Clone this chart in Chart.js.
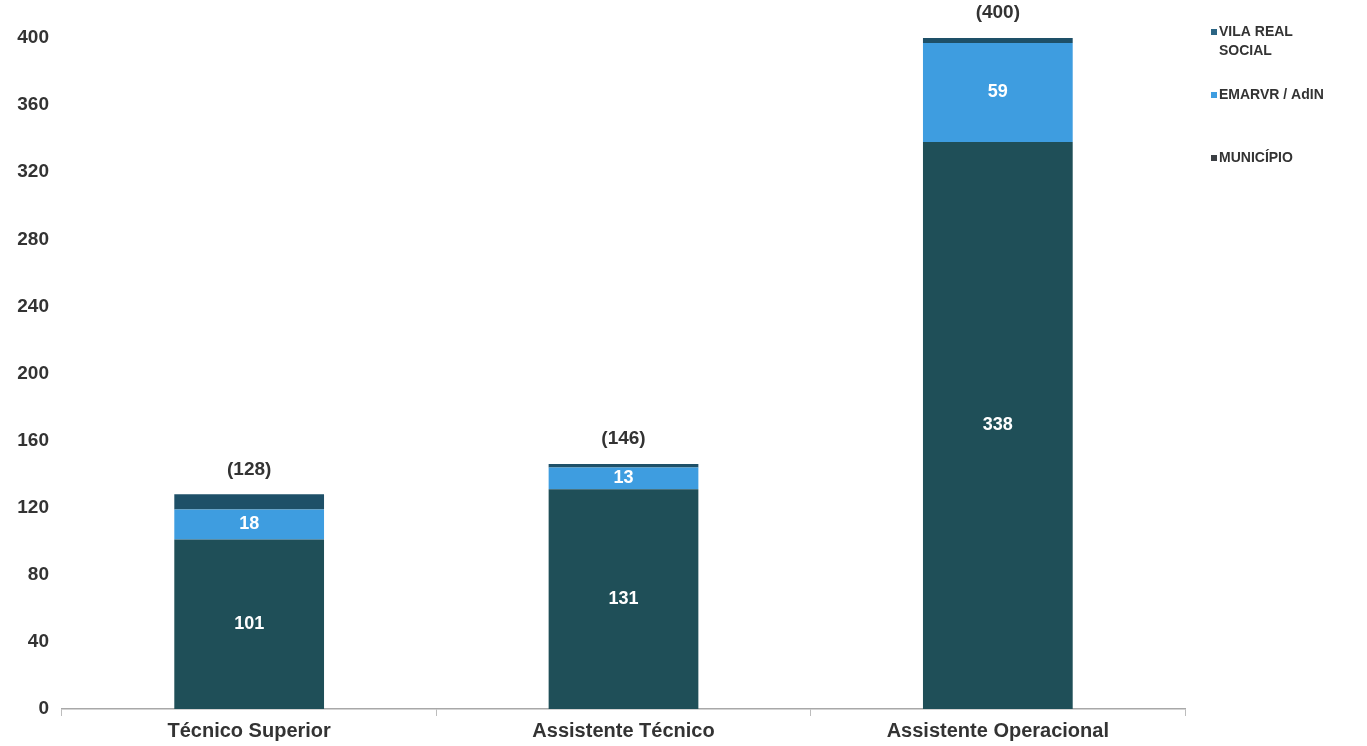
<!DOCTYPE html>
<html lang="pt">

<head>
    <meta charset="UTF-8">
    <title>Trabalhadores por carreira</title>
    <script src="https://cdn.jsdelivr.net/npm/chart.js"></script>
    <style>
        html, body { margin: 0; padding: 0; background: #fff; }
        #wrap { width: 1367px; height: 746px; }
    </style>
</head>

<body>
    <div id="wrap">
        <canvas id="carreiras" width="1367" height="746"></canvas>
    </div>

    <script>
        // Carreiras e efetivos por entidade
        const categories = ['Técnico Superior', 'Assistente Técnico', 'Assistente Operacional'];
        const municipio = [101, 131, 338];
        const emarvr = [18, 13, 59];
        const vilaRealSocial = [9, 2, 3];
        const yTicks = [0, 40, 80, 120, 160, 200, 240, 280, 320, 360, 400];

        const FONT = '"Liberation Sans", Arial, sans-serif';
        const TEXT = '#333333';

        // Valores dentro das barras e totais entre parênteses
        const labelsPlugin = {
            id: 'barLabels',
            afterDatasetsDraw(chart) {
                const ctx = chart.ctx;
                ctx.save();
                ctx.textAlign = 'center';
                ctx.textBaseline = 'middle';
                ctx.font = 'bold 18px ' + FONT;
                ctx.fillStyle = '#ffffff';
                [0, 1].forEach(di => {
                    chart.getDatasetMeta(di).data.forEach((bar, i) => {
                        const v = chart.data.datasets[di].data[i];
                        ctx.fillText(String(v), bar.x, (bar.y + bar.base) / 2);
                    });
                });
                ctx.font = 'bold 19px ' + FONT;
                ctx.fillStyle = TEXT;
                const top = chart.getDatasetMeta(chart.data.datasets.length - 1).data;
                categories.forEach((c, i) => {
                    const total = chart.data.datasets.reduce((s, d) => s + d.data[i], 0);
                    ctx.fillText('(' + total + ')', top[i].x, top[i].y - 25);
                });
                ctx.restore();
            }
        };

        // Legenda à direita, ordem inversa das séries
        const legendPlugin = {
            id: 'sideLegend',
            afterDraw(chart) {
                const ctx = chart.ctx;
                ctx.save();
                ctx.font = 'bold 14px ' + FONT;
                ctx.textBaseline = 'middle';
                ctx.textAlign = 'left';
                const ds = chart.data.datasets.slice().reverse();
                ds.forEach((d, k) => {
                    const y = 32 + k * 63;
                    ctx.fillStyle = d.legendColor || d.backgroundColor;
                    ctx.fillRect(1211, y - 3, 6, 6);
                    ctx.fillStyle = TEXT;
                    // quebra de linha simples
                    const words = d.label.split(' ');
                    let line = '', ly = y;
                    words.forEach(w => {
                        const test = line ? line + ' ' + w : w;
                        if (ctx.measureText(test).width > 112 && line) {
                            ctx.fillText(line, 1219, ly);
                            line = w;
                            ly += 19;
                        } else {
                            line = test;
                        }
                    });
                    ctx.fillText(line, 1219, ly);
                });
                ctx.restore();
            }
        };

        const ctx = document.getElementById('carreiras').getContext('2d');
        new Chart(ctx, {
            type: 'bar',
            data: {
                labels: categories,
                datasets: [
                    { label: 'MUNICÍPIO', data: municipio, backgroundColor: '#1f4f58', legendColor: '#3b3f44' },
                    { label: 'EMARVR / AdIN', data: emarvr, backgroundColor: '#3e9de0' },
                    { label: 'VILA REAL SOCIAL', data: vilaRealSocial, backgroundColor: '#1e5068', legendColor: '#2b6584' }
                ]
            },
            options: {
                responsive: false,
                animation: false,
                devicePixelRatio: 1,
                layout: { padding: { top: 38, right: 182, left: 0, bottom: 0 } },
                datasets: { bar: { barPercentage: 0.4, categoryPercentage: 1 } },
                plugins: {
                    legend: { display: false },
                    tooltip: { enabled: false }
                },
                scales: {
                    x: {
                        stacked: true,
                        grid: { drawOnChartArea: false, tickLength: 7, color: '#bdbdbd' },
                        border: { color: '#a8a8a8', width: 1.5 },
                        ticks: { color: TEXT, font: { family: FONT, size: 20, weight: 'bold' }, padding: 3 },
                        afterFit(scale) { scale.height = 37; }
                    },
                    y: {
                        stacked: true,
                        min: 0,
                        max: 400,
                        grid: { display: false, drawTicks: false },
                        border: { display: false },
                        afterBuildTicks(scale) { scale.ticks = yTicks.map(v => ({ value: v })); },
                        ticks: { color: TEXT, font: { family: FONT, size: 19, weight: 'bold' }, padding: 13 },
                        afterFit(scale) { scale.width = 62; }
                    }
                }
            },
            plugins: [labelsPlugin, legendPlugin]
        });
    </script>
</body>

</html>
